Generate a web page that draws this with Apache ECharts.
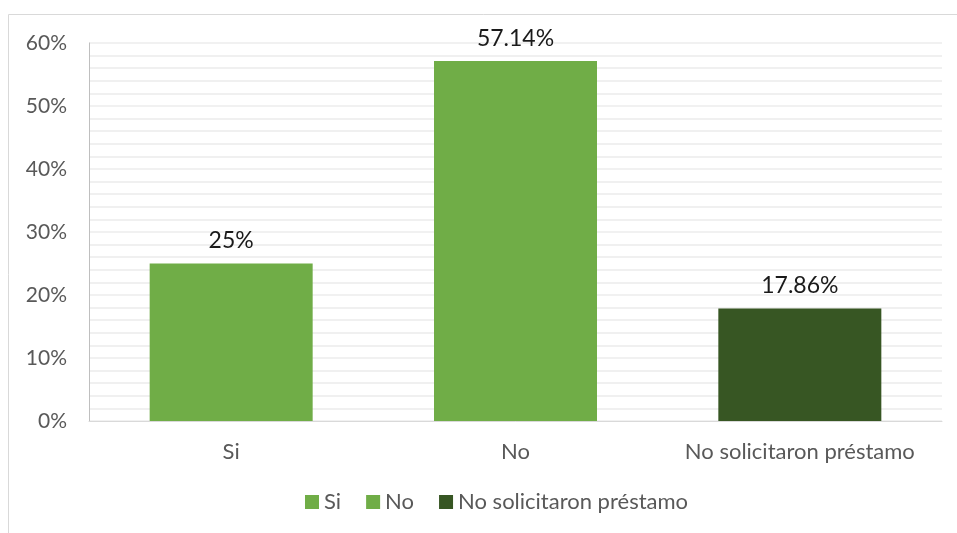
<!DOCTYPE html>
<html>
<head>
<meta charset="utf-8">
<script src="https://cdn.jsdelivr.net/npm/echarts@6/dist/echarts.min.js"></script>
<style>
html,body{margin:0;padding:0;background:#fff;}
#main{width:957px;height:533px;}
</style>
</head>
<body>
<div id="main"></div>
<script>
const categories = ['Si', 'No', 'No solicitaron préstamo'];
const seriesNames = ['Si', 'No', 'No solicitaron préstamo'];
const values = [25, 57.14, 17.86];
const labels = ['25%', '57.14%', '17.86%'];
const colors = ['#70AD47', '#70AD47', '#375623'];
const yTicks = [0, 10, 20, 30, 40, 50, 60];

const FONT = 'Lato, "Open Sans", sans-serif';
const chart = echarts.init(document.getElementById('main'));

const series = seriesNames.map((name, i) => ({
  name: name,
  type: 'bar',
  stack: 'all',
  barWidth: 163,
  itemStyle: { color: colors[i] },
  label: {
    show: true,
    position: 'top',
    distance: 11,
    color: '#1a1a1a',
    fontSize: 23,
    fontFamily: FONT,
    formatter: () => labels[i]
  },
  data: categories.map((c, j) => (j === i ? values[i] : null))
}));

chart.setOption({
  animation: false,
  textStyle: { fontFamily: FONT },
  graphic: [{
    type: 'rect',
    shape: { x: 8.5, y: 14.5, width: 1000, height: 600 },
    style: { fill: 'none', stroke: '#d9d9d9', lineWidth: 1 },
    z: -1
  }],
  grid: { left: 89, right: 15, top: 43, bottom: 112 },
  legend: {
    bottom: 15,
    left: 300,
    itemWidth: 14,
    itemHeight: 14,
    itemGap: 25,
    icon: 'rect',
    textStyle: { color: '#595959', fontSize: 22, fontFamily: FONT },
    data: seriesNames
  },
  xAxis: {
    type: 'category',
    data: categories,
    axisLine: { lineStyle: { color: '#d9d9d9', width: 1 } },
    axisTick: { show: false },
    axisLabel: { color: '#595959', fontSize: 22, fontFamily: FONT, margin: 20, interval: 0 }
  },
  yAxis: {
    type: 'value',
    min: yTicks[0],
    max: yTicks[yTicks.length - 1],
    interval: 10,
    axisLine: { show: true, lineStyle: { color: '#bfbfbf', width: 1 } },
    axisTick: { show: false },
    axisLabel: { color: '#595959', fontSize: 21, fontFamily: FONT, margin: 22, formatter: '{value}%' },
    splitLine: { show: true, lineStyle: { color: '#ececec', width: 1.5 } },
    minorTick: { show: false, splitNumber: 5 },
    minorSplitLine: { show: true, lineStyle: { color: '#ececec', width: 1.5 } }
  },
  series: series
});
</script>
</body>
</html>
